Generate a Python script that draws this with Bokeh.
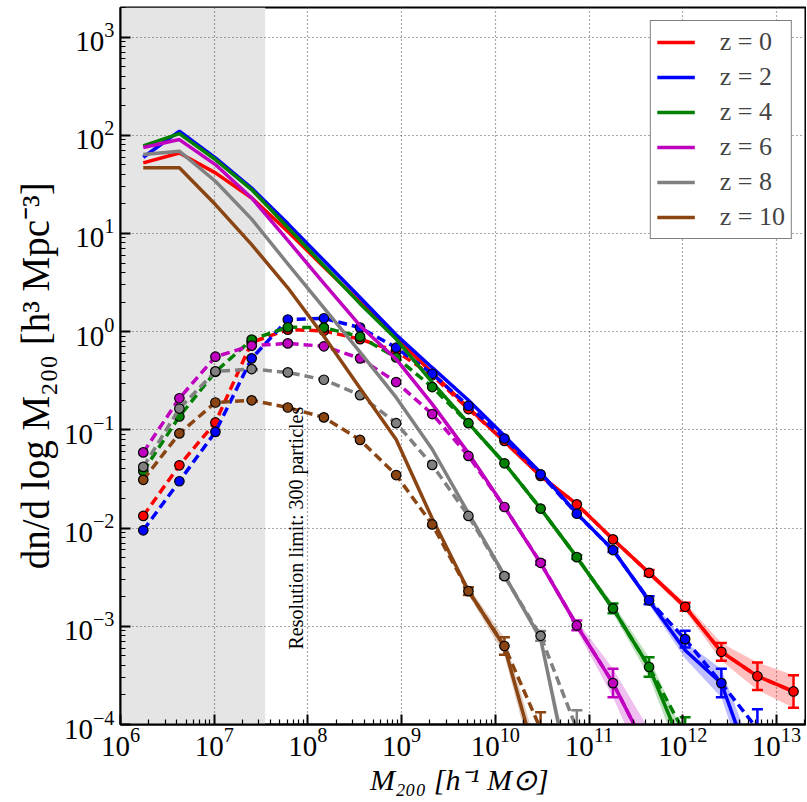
from bokeh.plotting import figure
from bokeh.models import (LogAxis, FixedTicker, BoxAnnotation, Label, Legend,
                          LegendItem, Range1d)
from bokeh.embed import file_html
from bokeh.resources import INLINE

# ---------------- data ----------------
mass = [1.75e6, 4.25e6, 1.03e7, 2.51e7, 6.10e7, 1.48e8, 3.60e8, 8.74e8,
        2.12e9, 5.16e9, 1.25e10, 3.04e10, 7.40e10, 1.80e11, 4.37e11,
        1.06e12, 2.58e12, 6.26e12, 1.52e13]

labels = ["z = 0", "z = 2", "z = 4", "z = 6", "z = 8", "z = 10"]
colors = ["#ff0000", "#0000ff", "#008000", "#bf00bf", "#808080", "#8b4513"]

# solid curves
solid_z0 = [52.4, 66, 41.4, 23, 10.5, 4.55, 2.0, 0.87, 0.38, 0.168, 0.076,
            0.034, 0.0175, 0.0077, 0.0035, 0.00158, 5.5e-4, 3.1e-4, 2.17e-4]
solid_z2 = [59.7, 110, 58.9, 29, 12.6, 5.3, 2.23, 0.93, 0.43, 0.20, 0.087,
            0.0367, 0.0141, 0.0060, 0.00182, 5.7e-4, 2.63e-4, 2.5e-5]
solid_z4 = [78, 104, 56.6, 28, 11.5, 4.7, 1.93, 0.84, 0.305, 0.117, 0.0457,
            0.0158, 0.00506, 0.00152, 3.85e-4, 5e-5]
solid_z6 = [75, 90.4, 50.3, 23, 8.5, 3.1, 1.15, 0.525, 0.183, 0.058, 0.0164,
            0.0044, 0.00102, 2.64e-4, 5e-5]
solid_z8 = [63.7, 68.8, 34, 14, 4.9, 1.75, 0.62, 0.214, 0.0635, 0.0142, 0.0033,
            7.5e-4, 1.3e-5]
solid_z10 = [46.6, 46.6, 19.7, 7.7, 2.8, 0.9, 0.265, 0.08, 0.0125, 0.0023,
             6.2e-4, 3e-5]

# dashed curves with points
dash_z0 = [0.0133, 0.0436, 0.119, 0.78, 1.05, 1.02, 0.84, 0.63, 0.36, 0.163,
           0.0773, 0.034, 0.01745, 0.00767, 0.0035, 0.00158, 5.5e-4, 3.1e-4,
           2.17e-4]
dash_z2 = [0.0095, 0.030, 0.0955, 0.535, 1.33, 1.37, 1.10, 0.687, 0.373,
           0.176, 0.0817, 0.0353, 0.0140, 0.00597, 0.00184, 7.4e-4, 2.64e-4,
           9e-5]
dash_z4 = [0.038, 0.137, 0.39, 0.83, 1.11, 1.10, 0.89, 0.547, 0.273, 0.117,
           0.0457, 0.0158, 0.00506, 0.00152, 3.85e-4, 8e-5]
dash_z6 = [0.059, 0.21, 0.556, 0.72, 0.76, 0.71, 0.535, 0.307, 0.145, 0.0543,
           0.0164, 0.00443, 0.00102, 2.64e-4, 5e-5]
dash_z8 = [0.042, 0.165, 0.394, 0.416, 0.385, 0.324, 0.226, 0.117, 0.044,
           0.0133, 0.00324, 8.0e-4, 9e-5]
dash_z10 = [0.031, 0.092, 0.19, 0.20, 0.169, 0.134, 0.079, 0.0347, 0.0109,
            0.00228, 6.3e-4, 9e-5]

# uncertainties (dex, half width)
err_z0 = [0]*14 + [0.03, 0.04, 0.09, 0.14, 0.165]
err_z2 = [0]*13 + [0.02, 0.04, 0.085, 0.145, 0.2]
err_z4 = [0]*12 + [0.02, 0.05, 0.10, 0.17]
err_z6 = [0]*11 + [0.02, 0.05, 0.145, 0.25]
err_z8 = [0]*10 + [0.02, 0.05, 0.19]
err_z10 = [0]*9 + [0.04, 0.09, 0.17]

res_limit = 3.5e7            # 300-particle resolution limit
x_lim = (1e6, 2.04e13)
y_lim = (1e-4, 2.0e3)
x_decades = list(range(6, 14))
y_decades = list(range(-4, 4))

series = [
    (labels[0], colors[0], solid_z0, dash_z0, err_z0),
    (labels[1], colors[1], solid_z2, dash_z2, err_z2),
    (labels[2], colors[2], solid_z4, dash_z4, err_z4),
    (labels[3], colors[3], solid_z6, dash_z6, err_z6),
    (labels[4], colors[4], solid_z8, dash_z8, err_z8),
    (labels[5], colors[5], solid_z10, dash_z10, err_z10),
]

FONT = "Liberation Serif"

# ---------------- figure ----------------
p = figure(x_axis_type="log", y_axis_type="log",
           x_range=Range1d(*x_lim), y_range=Range1d(*y_lim),
           frame_width=685, frame_height=717,
           min_border_left=120, min_border_right=1, min_border_top=7,
           min_border_bottom=77,
           output_backend="svg", toolbar_location=None)
p.background_fill_color = "white"
p.outline_line_color = "black"
p.outline_line_width = 2

xt = FixedTicker(ticks=[10.0**e for e in x_decades],
                 minor_ticks=[k * 10.0**e for e in range(5, 14) for k in range(2, 10)])
yt = FixedTicker(ticks=[10.0**e for e in y_decades],
                 minor_ticks=[k * 10.0**e for e in range(-5, 4) for k in range(2, 10)])

def style_axis(ax, ticker):
    ax.ticker = ticker
    ax.axis_line_width = 2
    ax.axis_line_color = "black"
    ax.major_tick_in = 10
    ax.major_tick_out = 0
    ax.minor_tick_in = 5
    ax.minor_tick_out = 0
    ax.major_tick_line_width = 2
    ax.minor_tick_line_width = 1.2
    ax.major_tick_line_color = "black"
    ax.minor_tick_line_color = "black"
    ax.major_label_text_font = FONT
    ax.major_label_text_font_size = "29px"
    ax.major_label_text_color = "black"

style_axis(p.xaxis[0], xt)
style_axis(p.yaxis[0], yt)
p.xaxis.major_label_standoff = 3
p.yaxis.major_label_standoff = 6

p.xaxis[0].axis_label = "M₂₀₀  [h⁻¹ M⊙]"
p.yaxis[0].axis_label = "dn/d log M₂₀₀   [h³ Mpc⁻³]"
for ax in (p.xaxis[0], p.yaxis[0]):
    ax.axis_label_text_font = FONT
    ax.axis_label_text_font_style = "normal"
    ax.axis_label_text_color = "black"
p.xaxis[0].axis_label_text_font_size = "30px"
p.yaxis[0].axis_label_text_font_size = "39px"
p.xaxis[0].axis_label_text_font_style = "italic"
p.xaxis[0].axis_label_standoff = 4
p.yaxis[0].axis_label_standoff = 4

p.xgrid.ticker = FixedTicker(ticks=[10.0**e for e in x_decades])
p.ygrid.ticker = FixedTicker(ticks=[10.0**e for e in y_decades])
for g in (p.xgrid[0], p.ygrid[0]):
    g.grid_line_color = "#555555"
    g.grid_line_dash = "1 3"
    g.grid_line_width = 1.2

# grey unresolved region
p.add_layout(BoxAnnotation(right=res_limit, fill_color="#e5e5e5", fill_alpha=1.0,
                           line_alpha=0, level="image"))

legend_items = []
for name, col, sol, dsh, err in series:
    n = len(sol)
    x = mass[:n]
    band_lo = [s * 10 ** (-e) for s, e in zip(sol, err)]
    band_hi = [s * 10 ** (e) for s, e in zip(sol, err)]
    p.varea(x=x, y1=band_lo, y2=band_hi, fill_color=col, fill_alpha=0.25)
    p.line(x, dsh, line_color=col, line_width=3.5, line_dash="9 5")
    r = p.line(x, sol, line_color=col, line_width=3.5)
    legend_items.append(LegendItem(label=name, renderers=[r]))
    idx = [i for i in range(n) if err[i] > 0]
    ex = [x[i] for i in idx]
    elo = [dsh[i] * 10 ** (-err[i]) for i in idx]
    ehi = [dsh[i] * 10 ** (err[i]) for i in idx]
    p.segment(x0=ex, y0=elo, x1=ex, y1=ehi, line_color=col, line_width=2.5)
    p.scatter(ex, elo, marker="dash", size=11, line_color=col, line_width=2.5)
    p.scatter(ex, ehi, marker="dash", size=11, line_color=col, line_width=2.5)
    p.scatter(x, dsh, marker="circle", size=9.5, fill_color=col,
              line_color="black", line_width=1.2)

p.add_layout(Label(x=7.4e7, y=5.8e-4, text="Resolution limit: 300 particles",
                   angle=90, angle_units="deg", text_font=FONT,
                   text_font_size="20px", text_align="left",
                   text_baseline="alphabetic", text_color="black"))

legend = Legend(items=legend_items, location="top_right", margin=13,
                padding=6, spacing=5, glyph_width=38, glyph_height=20,
                label_height=20, label_standoff=25,
                label_text_font=FONT, label_text_font_size="26px",
                border_line_color="black", border_line_width=1.5,
                background_fill_color="white", background_fill_alpha=1.0)
p.add_layout(legend)

open("out.html", "w").write(file_html(p, INLINE))
